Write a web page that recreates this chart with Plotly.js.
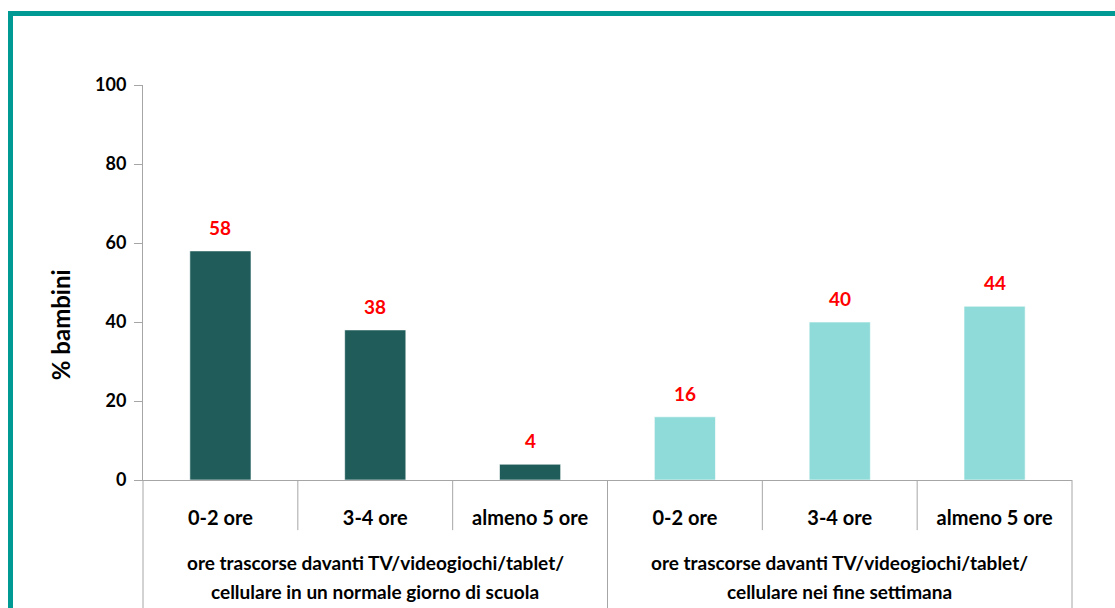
<!DOCTYPE html>
<html>
<head>
<meta charset="utf-8">
<script src="https://cdn.plot.ly/plotly-3.0.1.min.js"></script>
<style>
body{margin:0;background:#fff;}
#cornice{position:absolute;left:8px;top:11px;width:1107px;height:597px;border-top:5px solid #009a94;border-left:5px solid #009a94;box-sizing:border-box;}
#grafico{position:absolute;left:0;top:0;width:1115px;height:608px;}
</style>
</head>
<body>
<div id="cornice"></div>
<div id="grafico"></div>
<script>
// dati
const GRUPPI = ["scuola", "weekend"];
const GRUPPI_RIGA1 = ["ore trascorse davanti TV/videogiochi/tablet/", "ore trascorse davanti TV/videogiochi/tablet/"];
const GRUPPI_RIGA2 = ["cellulare in un normale giorno di scuola", "cellulare nei fine settimana"];
const FASCE = ["0-2 ore", "3-4 ore", "almeno 5 ore"];
const VALORI_SCUOLA = [58, 38, 4];
const VALORI_WEEKEND = [16, 40, 44];
const COLORI_GRUPPI = ["#1f5c5a", "#8fdbd9"];

const FONT = "Lato, 'DejaVu Sans', sans-serif";
const GRIGIO = "#a6a6a6";

let chiavi = [];
let etichette = [];
let valori = [];
let colori = [];
let serie = [VALORI_SCUOLA, VALORI_WEEKEND];
for (let g = 0; g < GRUPPI.length; g++) {
    for (let f = 0; f < FASCE.length; f++) {
        chiavi.push(GRUPPI[g] + " " + FASCE[f]);
        etichette.push(FASCE[f]);
        valori.push(serie[g][f]);
        colori.push(COLORI_GRUPPI[g]);
    }
}

let datos = [{
    type: 'bar',
    x: chiavi,
    y: valori,
    marker: {color: colori, line: {color: 'rgba(255,255,255,0.6)', width: 1}},
    hoverinfo: 'x+y'
}];

// etichette rosse sopra le barre
let annotazioni = [];
for (let i = 0; i < chiavi.length; i++) {
    annotazioni.push({
        x: chiavi[i], y: valori[i], xref: 'x', yref: 'y',
        text: String(valori[i]), showarrow: false,
        yanchor: 'bottom', yshift: 10,
        font: {family: FONT, size: 19, color: '#ff0000', weight: 'bold'}
    });
}
// titoli dei gruppi sotto l'asse
for (let g = 0; g < GRUPPI.length; g++) {
    let centro = g * FASCE.length + (FASCE.length - 1) / 2;
    annotazioni.push({
        x: centro, y: 0, xref: 'x', yref: 'paper', yanchor: 'middle', yshift: -82,
        text: GRUPPI_RIGA1[g], showarrow: false,
        font: {family: FONT, size: 19, color: '#000', weight: 'bold'}
    });
    annotazioni.push({
        x: centro, y: 0, xref: 'x', yref: 'paper', yanchor: 'middle', yshift: -111,
        text: GRUPPI_RIGA2[g], showarrow: false,
        font: {family: FONT, size: 19, color: '#000', weight: 'bold'}
    });
}
// titolo asse y
annotazioni.push({
    x: 0, y: 0.392, xref: 'paper', yref: 'paper', xshift: -83,
    text: '% bambini', textangle: -90, showarrow: false,
    xanchor: 'center', yanchor: 'middle',
    font: {family: FONT, size: 24, color: '#000', weight: 'bold'}
});

// linee di separazione delle categorie
let forme = [];
for (let i = 0; i < chiavi.length - 1; i++) {
    let fineGruppo = (i + 1) % FASCE.length == 0;
    forme.push({
        type: 'line', xref: 'x', yref: 'paper',
        x0: i + 0.5, x1: i + 0.5, y0: 0, y1: fineGruppo ? -0.4 : -0.127,
        line: {color: GRIGIO, width: 1}
    });
}
forme.push({type: 'line', xref: 'paper', yref: 'paper', x0: 0, x1: 0, y0: 0, y1: -0.4, line: {color: GRIGIO, width: 1}});
forme.push({type: 'line', xref: 'paper', yref: 'paper', x0: 1, x1: 1, y0: 0, y1: -0.4, line: {color: GRIGIO, width: 1}});

let layout = {
    width: 1115, height: 608,
    margin: {l: 143, r: 43, t: 85, b: 128},
    paper_bgcolor: 'rgba(0,0,0,0)',
    plot_bgcolor: 'rgba(0,0,0,0)',
    showlegend: false,
    bargap: 0.605,
    xaxis: {
        type: 'category',
        tickvals: chiavi, ticktext: etichette,
        showline: true, linecolor: GRIGIO, linewidth: 1,
        ticks: '', showgrid: false, zeroline: false,
        ticklabelstandoff: 20,
        tickfont: {family: FONT, size: 20, color: '#000', weight: 'bold'}
    },
    yaxis: {
        range: [0, 100], dtick: 20,
        showline: true, linecolor: GRIGIO, linewidth: 1,
        ticks: 'outside', ticklen: 8, tickcolor: GRIGIO,
        ticklabelstandoff: 4,
        showgrid: false, zeroline: false,
        tickfont: {family: FONT, size: 18, color: '#000', weight: 'bold'}
    },
    annotations: annotazioni,
    shapes: forme
};

Plotly.newPlot(document.getElementById("grafico"), datos, layout, {displayModeBar: false});
</script>
</body>
</html>
